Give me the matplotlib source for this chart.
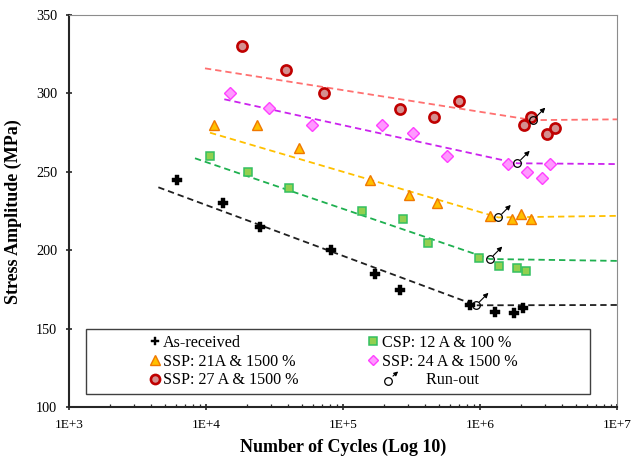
import math
import matplotlib
matplotlib.use('Agg')
import matplotlib.pyplot as plt
from matplotlib.lines import Line2D
from matplotlib.patches import Rectangle, FancyArrowPatch
from matplotlib.legend_handler import HandlerBase
from matplotlib.ticker import FixedLocator, FuncFormatter, LogLocator, NullFormatter

plt.rcParams['font.family'] = ['Liberation Serif', 'DejaVu Serif']

# test data (cycles, stress amplitude MPa)
ar_n = [6170, 13400, 24900, 81700, 171000, 261000, 845000, 1290000, 1760000, 2070000]
ar_s = [245, 230, 215, 200, 185, 175, 165, 161, 160, 163]
csp_n = [10700, 20300, 40500, 138000, 273000, 417000, 983000, 1380000, 1870000, 2160000]
csp_s = [260, 250, 240, 225, 220, 205, 195, 190, 189, 187]
s21_n = [11400, 23400, 47700, 157000, 303000, 488000, 1180000, 1700000, 2000000, 2340000]
s21_s = [280, 280, 265, 245, 235, 230, 222, 220, 223, 220]
s24_n = [15000, 29000, 59700, 194000, 323000, 577000, 1600000, 2190000, 2850000, 3240000]
s24_s = [300, 291, 280, 280, 275, 260, 255, 250, 246, 255]
s27_n = [18400, 38400, 73000, 261000, 459000, 699000, 2110000, 2360000, 3070000, 3550000]
s27_s = [330, 315, 300, 290, 285, 295, 280, 285, 274, 278]

# run-out specimens
runout_n = [935000, 1180000, 1360000, 1870000, 2430000]
runout_s = [165, 194.5, 221, 255.5, 283]

# fitted S-N curves: start, knee, end
fit_ar_n = [4490, 935000, 1e7]
fit_ar_s = [240.2, 165, 165.2]
fit_csp_n = [8310, 1180000, 1e7]
fit_csp_s = [258.7, 194.5, 193.3]
fit_s21_n = [10700, 1360000, 1e7]
fit_s21_s = [275, 221, 222]
fit_s24_n = [13600, 1870000, 1e7]
fit_s24_s = [296.3, 255.5, 255]
fit_s27_n = [9830, 2430000, 1e7]
fit_s27_s = [316, 283, 283.5]

dash = (0, (3.5, 2.2))

fig = plt.figure(figsize=(6.32, 4.57), dpi=100)
ax = fig.add_axes([69/632, 1-407.3/457, 548/632, 392.3/457])

ax.plot(fit_ar_n, fit_ar_s, color='#202020', lw=1.3, linestyle=dash, zorder=2)
ax.plot(fit_csp_n, fit_csp_s, color='#1fb050', lw=1.3, linestyle=dash, zorder=2)
ax.plot(fit_s21_n, fit_s21_s, color='#ffc000', lw=1.3, linestyle=dash, zorder=2)
ax.plot(fit_s24_n, fit_s24_s, color='#cc22ee', lw=1.3, linestyle=dash, zorder=2)
ax.plot(fit_s27_n, fit_s27_s, color='#ff7070', lw=1.3, linestyle=dash, zorder=2)

h_ar, = ax.plot(ar_n, ar_s, 'P', ms=7, color='black', mec='black', mew=0.3, zorder=3)
h_csp, = ax.plot(csp_n, csp_s, 's', ms=6.2, mfc='#92d050', mec='#33c060', mew=1.1, zorder=3)
h_s21, = ax.plot(s21_n, s21_s, '^', ms=7.8, mfc='#ffc000', mec='#f07800', mew=1.0, zorder=3)
h_s24, = ax.plot(s24_n, s24_s, 'D', ms=6.2, mfc='#ff99ff', mec='#ff40ff', mew=1.0, zorder=3)
h_s27, = ax.plot(s27_n, s27_s, 'o', ms=7.3, mfc='#d49090', mec='#c00000', mew=1.9, zorder=3)

ax.plot(runout_n, runout_s, 'o', ms=5.5, mfc='none', mec='black', mew=0.9, zorder=5)
for n, s in zip(runout_n, runout_s):
    ax.annotate('', xy=(n, s), xytext=(9, 9), textcoords='offset points',
                arrowprops=dict(arrowstyle='<|-', color='black', lw=0.8,
                                mutation_scale=7, shrinkA=0, shrinkB=3.5), zorder=5)

ax.set_xscale('log')
ax.set_xlim(1e3, 1e7)
ax.set_ylim(100, 350)
ax.xaxis.set_major_locator(FixedLocator([1e3, 1e4, 1e5, 1e6, 1e7]))
ax.xaxis.set_major_formatter(FuncFormatter(lambda v, p: '1E+%d' % round(math.log10(v))))
ax.xaxis.set_minor_locator(LogLocator(base=10, subs=range(2, 10), numticks=20))
ax.xaxis.set_minor_formatter(NullFormatter())
ax.set_yticks([100, 150, 200, 250, 300, 350])

ax.tick_params(axis='both', which='major', direction='inout', length=5, width=1.2,
               color='#262626')
ax.tick_params(axis='x', which='major', pad=6, labelsize=9.6)
ax.tick_params(axis='y', which='major', pad=6, labelsize=10.3)
ax.tick_params(axis='x', which='minor', direction='in', length=2.5, width=0.9, color='#262626')

for side in ['left', 'bottom']:
    ax.spines[side].set_linewidth(1.5)
    ax.spines[side].set_color('#262626')
for side in ['top', 'right']:
    ax.spines[side].set_linewidth(0.8)
    ax.spines[side].set_color('#8c8c8c')

ax.set_xlabel('Number of Cycles (Log 10)', fontsize=13, fontweight='bold')
ax.set_ylabel('Stress Amplitude (MPa)', fontsize=13, fontweight='bold')
ax.xaxis.set_label_coords(0.5, -0.081)
ax.yaxis.set_label_coords(-0.086, 0.5)


class RunoutHandler(HandlerBase):
    def create_artists(self, legend, orig_handle, xdescent, ydescent, width, height, fontsize, trans):
        x0 = -xdescent + width * 0.5 + 10.4
        y0 = -ydescent + height * 0.5 - 1.5
        dot = Line2D([x0], [y0], marker='o', ms=5.5, mfc='none', mec='black', mew=0.9,
                     linestyle='none', transform=trans)
        arr = FancyArrowPatch((x0 + 2.3, y0 + 2.0), (x0 + 9, y0 + 8), arrowstyle='-|>',
                              mutation_scale=6, lw=0.8, color='black', transform=trans)
        return [dot, arr]


h_run = Line2D([], [], linestyle='none')

box = Rectangle((0.0305, 0.034), 0.920, 0.165, transform=ax.transAxes, facecolor='white',
                edgecolor='#404040', lw=1.0, zorder=6)
ax.add_patch(box)

handles = [h_ar, h_s21, h_s27, h_csp, h_s24, h_run]
labels = ['As-received', 'SSP: 21A & 1500 %', 'SSP: 27 A & 1500 %',
          'CSP: 12 A & 100 %', 'SSP: 24 A & 1500 %', '           Run-out']
leg = ax.legend(handles, labels, ncol=2, loc='center left', bbox_to_anchor=(0.146, 0.1167),
                frameon=False, fontsize=11.6, handlelength=0.7, handletextpad=0.18,
                columnspacing=4.28, labelspacing=0.17, borderpad=0, borderaxespad=0,
                markerscale=0.9, handler_map={h_run: RunoutHandler()})
leg.set_zorder(7)

fig.savefig('out.png', dpi=100)
